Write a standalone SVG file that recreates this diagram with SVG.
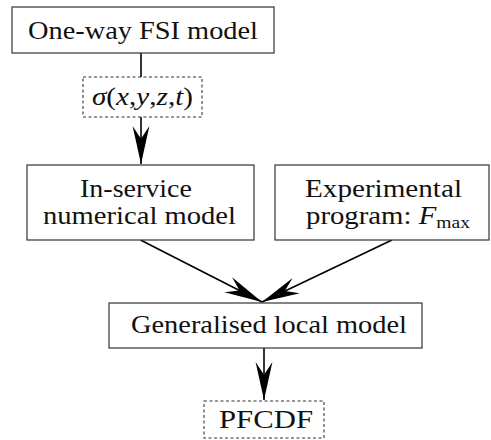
<svg xmlns="http://www.w3.org/2000/svg" width="491" height="440" viewBox="0 0 491 440">
<style>
.box{fill:#fff;stroke:#333;stroke-width:1.2}
.dash{fill:#fff;stroke:#333;stroke-width:1.1;stroke-dasharray:3 2.5}
.t{font-family:"Liberation Serif","DejaVu Serif",serif;font-size:25px;fill:#111;text-anchor:middle}
.m{font-style:italic}
.edge{stroke:#000;stroke-width:1.6;fill:none}
</style>
<defs>
<marker id="st" markerUnits="userSpaceOnUse" markerWidth="40" markerHeight="20" viewBox="-37 -9 38 18" refX="0" refY="0" orient="auto">
<path d="M0,0 L-36,-8 L-24,0 L-36,8 Z" fill="#000"/>
</marker>
</defs>
<rect width="491" height="440" fill="#fff"/>
<g id="edges">
<line class="edge" x1="141" y1="53" x2="141" y2="77"/>
<line class="edge" x1="141" y1="117" x2="141" y2="164" marker-end="url(#st)"/>
<line class="edge" x1="140.5" y1="240" x2="262" y2="302" marker-end="url(#st)"/>
<line class="edge" x1="392" y1="240" x2="262" y2="302" marker-end="url(#st)"/>
<line class="edge" x1="264" y1="348" x2="264" y2="400" marker-end="url(#st)"/>
</g>
<g id="fsi">
<rect class="box" x="12" y="7" width="262" height="46"/>
<text class="t" x="143" y="39" textLength="230" lengthAdjust="spacingAndGlyphs">One-way FSI model</text>
</g>
<g id="sigma">
<rect class="dash" x="83" y="77" width="119" height="40"/>
<text class="t" x="142.5" y="105" textLength="101" lengthAdjust="spacingAndGlyphs"><tspan class="m">σ</tspan>(<tspan class="m">x</tspan>,<tspan class="m">y</tspan>,<tspan class="m">z</tspan>,<tspan class="m">t</tspan>)</text>
</g>
<g id="inservice">
<rect class="box" x="27" y="165" width="227" height="75"/>
<text class="t" x="136" y="197" textLength="112" lengthAdjust="spacingAndGlyphs">In-service</text>
<text class="t" x="139.5" y="224" textLength="193" lengthAdjust="spacingAndGlyphs">numerical model</text>
</g>
<g id="experimental">
<rect class="box" x="275" y="165" width="214" height="75"/>
<text class="t" x="383.5" y="197" textLength="157" lengthAdjust="spacingAndGlyphs">Experimental</text>
<text class="t" x="306" y="224" style="text-anchor:start" textLength="164" lengthAdjust="spacingAndGlyphs">program: <tspan class="m">F</tspan><tspan font-size="17" dy="4">max</tspan></text>
</g>
<g id="generalised">
<rect class="box" x="109" y="303" width="313" height="45"/>
<text class="t" x="269" y="333" textLength="276" lengthAdjust="spacingAndGlyphs">Generalised local model</text>
</g>
<g id="pfcdf">
<rect class="dash" x="204" y="401" width="120" height="37"/>
<text class="t" x="266" y="428" textLength="94" lengthAdjust="spacingAndGlyphs">PFCDF</text>
</g>
</svg>
